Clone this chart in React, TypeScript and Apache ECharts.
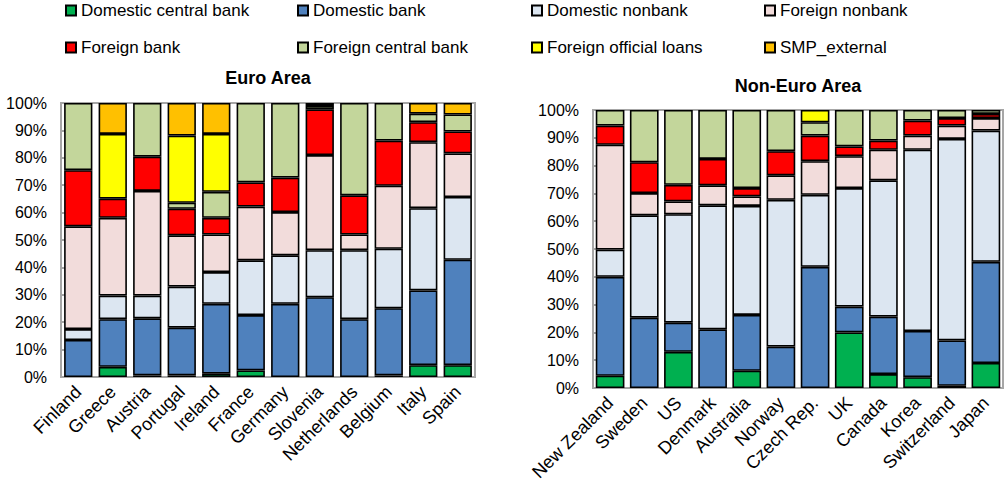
import React, { useEffect, useRef } from "react";
import * as echarts from "echarts";

const seriesNames = [
  "Domestic central bank",
  "Domestic bank",
  "Domestic nonbank",
  "Foreign nonbank",
  "Foreign bank",
  "Foreign central bank",
  "Foreign official loans",
  "SMP_external",
];
const seriesColors = ["#00B050", "#4F81BD", "#DCE6F1", "#F2DCDB", "#FF0000", "#C3D69B", "#FFFF00", "#FFC000"];

const euroCountries = ["Finland", "Greece", "Austria", "Portugal", "Ireland", "France", "Germany", "Slovenia", "Netherlands", "Belgium", "Italy", "Spain"];
const euroDomesticCentralBank = [0, 3.7, 0.6, 0.6, 1.2, 2.4, 0, 0, 0, 0.6, 4.3, 4.3];
const euroDomesticBank = [13.5, 17.4, 20.8, 17.4, 25.5, 20.2, 26.7, 29.1, 21.1, 24.5, 27.3, 38.5];
const euroDomesticNonbank = [4, 8.6, 8.3, 15, 11.6, 20, 17.7, 17.2, 25.2, 21.7, 30, 22.9];
const euroForeignNonbank = [37.5, 28.4, 38.2, 18.7, 13.7, 19.6, 15.8, 34.7, 5.7, 23, 24.1, 15.9];
const euroForeignBank = [20.5, 7, 12.5, 9.7, 6.1, 8.8, 12.6, 16.7, 14.3, 16.5, 7.3, 8];
const euroForeignCentralBank = [24.5, 0, 19.6, 2.2, 9.5, 29, 27.2, 1.2, 33.7, 13.7, 3.1, 6.2];
const euroForeignOfficialLoans = [0, 23.6, 0, 24.5, 21.1, 0, 0, 1.1, 0, 0, 0, 0];
const euroSMPExternal = [0, 11.3, 0, 11.9, 11.3, 0, 0, 0, 0, 0, 3.9, 4.2];

const nonEuroCountries = ["New Zealand", "Sweden", "US", "Denmark", "Australia", "Norway", "Czech Rep.", "UK", "Canada", "Korea", "Switzerland", "Japan"];
const nonEuroDomesticCentralBank = [4.4, 0, 13, 0, 6.2, 0, 0, 20, 5, 3.9, 0.8, 9];
const nonEuroDomesticBank = [35.6, 25.3, 10.5, 21.1, 20.1, 14.9, 43.6, 9.3, 20.7, 16.6, 16.3, 36.4];
const nonEuroDomesticNonbank = [9.8, 36.8, 39, 44.6, 39.2, 52.8, 25.9, 42.6, 49, 65.2, 72.5, 47.2];
const nonEuroForeignNonbank = [37.7, 8, 4.6, 7.2, 3.4, 8.8, 12.1, 11.5, 11, 5.1, 4.8, 4.5];
const nonEuroForeignBank = [6.9, 11.1, 6, 9.5, 3, 8.7, 9.2, 3.5, 3.3, 5.4, 2.7, 1.5];
const nonEuroForeignCentralBank = [5.6, 18.8, 26.9, 17.6, 28.1, 14.8, 4.8, 13.1, 11, 3.8, 2.9, 1.4];
const nonEuroForeignOfficialLoans = [0, 0, 0, 0, 0, 0, 4.4, 0, 0, 0, 0, 0];
const nonEuroSMPExternal = [0, 0, 0, 0, 0, 0, 0, 0, 0, 0, 0, 0];

const yTicks = { min: 0, max: 100, interval: 10 };

const euroData = [euroDomesticCentralBank, euroDomesticBank, euroDomesticNonbank, euroForeignNonbank, euroForeignBank, euroForeignCentralBank, euroForeignOfficialLoans, euroSMPExternal];
const nonEuroData = [nonEuroDomesticCentralBank, nonEuroDomesticBank, nonEuroDomesticNonbank, nonEuroForeignNonbank, nonEuroForeignBank, nonEuroForeignCentralBank, nonEuroForeignOfficialLoans, nonEuroSMPExternal];

const FONT = "'Liberation Sans', Arial, sans-serif";

export default function App() {
  const ref = useRef<HTMLDivElement>(null);
  useEffect(() => {
    if (!ref.current) return;
    const chart = echarts.init(ref.current, undefined, { renderer: "svg" });

    const legendCols = [65, 297, 531, 764];
    const legendRows = [2, 39];
    const legends = seriesNames.map((name, i) => ({
      data: [name],
      left: legendCols[i % 4],
      top: legendRows[Math.floor(i / 4)],
      padding: 0,
      itemWidth: 10,
      itemHeight: 10,
      icon: "rect",
      selectedMode: false,
      textStyle: { fontSize: 17, color: "#000", fontFamily: FONT },
    }));

    const series: any[] = [];
    [euroData, nonEuroData].forEach((dataset, gi) => {
      dataset.forEach((vals, si) => {
        series.push({
          type: "bar",
          name: seriesNames[si],
          stack: "s" + gi,
          xAxisIndex: gi,
          yAxisIndex: gi,
          barCategoryGap: gi === 0 ? "18%" : "16%",
          data: vals.map((v) => (v === 0 ? null : v)),
          itemStyle: { color: seriesColors[si], borderColor: "#000", borderWidth: 1.6 },
          emphasis: { disabled: true },
        });
      });
    });

    const mkX = (gi: number, cats: string[]) => ({
      type: "category",
      gridIndex: gi,
      data: cats,
      axisLine: { show: false },
      axisTick: { show: false },
      axisLabel: { rotate: 45, interval: 0, margin: 12, fontSize: 18, color: "#000", fontFamily: FONT },
    });
    const mkY = (gi: number) => ({
      type: "value",
      gridIndex: gi,
      min: yTicks.min,
      max: yTicks.max,
      interval: yTicks.interval,
      axisLine: { show: false },
      axisTick: { show: true, inside: true, length: 4, lineStyle: { color: "#a6a6a6", width: 2 } },
      splitLine: { show: false },
      axisLabel: { formatter: "{value}%", fontSize: 16, color: "#000", margin: 14, fontFamily: FONT },
    });

    chart.setOption({
      animation: false,
      legend: legends,
      grid: [
        { left: 61, right: 530, top: 103, bottom: 108, show: true, borderColor: "#a6a6a6", borderWidth: 2 },
        { left: 593, right: 2, top: 110, bottom: 97, show: true, borderColor: "#a6a6a6", borderWidth: 2 },
      ],
      xAxis: [mkX(0, euroCountries), mkX(1, nonEuroCountries)],
      yAxis: [mkY(0), mkY(1)],
      series,
      graphic: [
        { type: "text", x: 268, y: 78, style: { text: "Euro Area", fill: "#000", fontSize: 18, fontWeight: "bold", fontFamily: FONT, align: "center", verticalAlign: "middle" } },
        { type: "text", x: 798, y: 86, style: { text: "Non-Euro Area", fill: "#000", fontSize: 18, fontWeight: "bold", fontFamily: FONT, align: "center", verticalAlign: "middle" } },
      ],
    });
    return () => chart.dispose();
  }, []);
  return <div ref={ref} style={{ position: "fixed", left: 0, top: 0, width: 1005, height: 485, background: "#fff" }} />;
}
